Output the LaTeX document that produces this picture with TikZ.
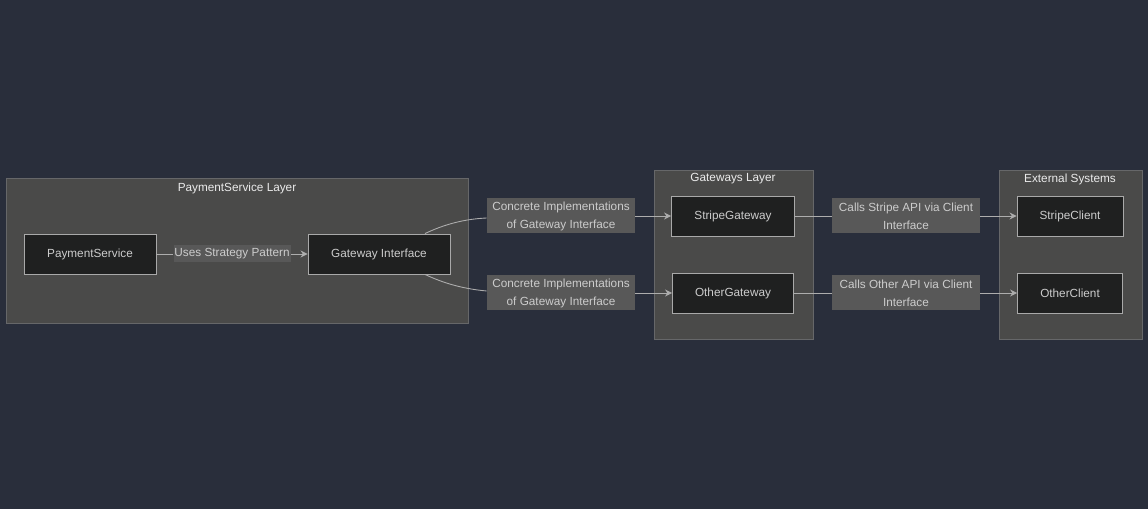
\documentclass[tikz,border=0pt]{standalone}
\usepackage{fontspec}
\setmainfont{Liberation Sans}
\usetikzlibrary{arrows.meta,calc}

\definecolor{bgblue}{HTML}{292E3B}
\definecolor{layerfill}{HTML}{4A4A49}
\definecolor{layerline}{HTML}{666769}
\definecolor{boxfill}{HTML}{1F2020}
\definecolor{boxline}{HTML}{A9A9A9}
\definecolor{tagfill}{HTML}{585858}
\definecolor{txt}{HTML}{CCCCCC}

\begin{document}
\begin{tikzpicture}[x=0.02cm, y=-0.02cm,
    every node/.style={font=\fontsize{6.7}{10.2}\selectfont, text=txt, inner sep=0pt},
    layer/.style={draw=layerline, fill=layerfill, line width=0.5pt},
    title/.style={text=white!92!black},
    box/.style={draw=boxline, fill=boxfill, line width=0.5pt, minimum height=40*0.02cm},
    tag/.style={fill=tagfill, align=center},
    link/.style={draw=txt!85!black, line width=0.5pt},
    arr/.style={link, -{Stealth[length=4pt,width=4pt]}}]
    \fill[bgblue] (0,0) rectangle (1148,509);
    \useasboundingbox (0,0) rectangle (1148,509);

    % layers
    \draw[layer] (6,178) rectangle (468,323);
    \node[title] (pslayer) at (237,188) {PaymentService Layer};
    \draw[layer] (654,170) rectangle (813,339);
    \node[title] (gwlayer) at (733,179) {Gateways Layer};
    \draw[layer] (999,170) rectangle (1142,339);
    \node[title] (extlayer) at (1070,179) {External Systems};

    % boxes
    \node[box, minimum width=132*0.02cm] (ps) at (90,254) {PaymentService};
    \node[box, minimum width=142*0.02cm] (gi) at (379,254) {Gateway Interface};
    \node[box, minimum width=123*0.02cm] (sg) at (733,216) {StripeGateway};
    \node[box, minimum width=121*0.02cm] (og) at (733,293) {OtherGateway};
    \node[box, minimum width=106*0.02cm] (sc) at (1070,216) {StripeClient};
    \node[box, minimum width=105*0.02cm] (oc) at (1070,293) {OtherClient};

    % edge labels
    \node[tag, minimum width=117*0.02cm, minimum height=17*0.02cm] (uses) at (232,254) {Uses Strategy Pattern};
    \node[tag, minimum width=148*0.02cm, minimum height=35*0.02cm] (impl1) at (561,216) {Concrete Implementations\\of Gateway Interface};
    \node[tag, minimum width=148*0.02cm, minimum height=35*0.02cm] (impl2) at (561,293) {Concrete Implementations\\of Gateway Interface};
    \node[tag, minimum width=148*0.02cm, minimum height=35*0.02cm] (call1) at (906,216) {Calls Stripe API via Client\\Interface};
    \node[tag, minimum width=148*0.02cm, minimum height=35*0.02cm] (call2) at (906,293) {Calls Other API via Client\\Interface};

    % connectors
    \draw[link] (ps.east) -- (uses.west);
    \draw[arr] (uses.east) -- (gi.west);
    \draw[link] ($(gi.north)+(46,0)$) .. controls (445,224) and (465,219) .. ($(impl1.west)+(0,2)$);
    \draw[link] ($(gi.south)+(46,0)$) .. controls (445,284) and (465,289) .. ($(impl2.west)+(0,-2)$);
    \draw[arr] (impl1.east) -- (sg.west);
    \draw[arr] (impl2.east) -- (og.west);
    \draw[link] (sg.east) -- (call1.west);
    \draw[link] (og.east) -- (call2.west);
    \draw[arr] (call1.east) -- (sc.west);
    \draw[arr] (call2.east) -- (oc.west);
\end{tikzpicture}
\end{document}
